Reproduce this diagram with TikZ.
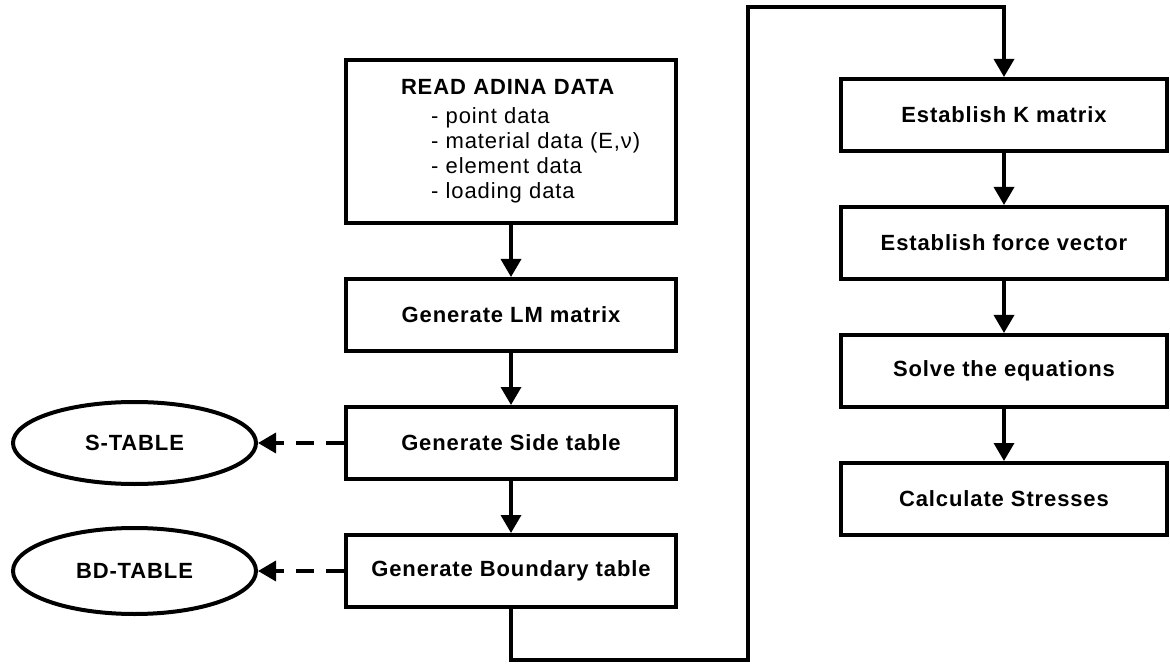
\documentclass[tikz,border=0pt]{standalone}
\usepackage{fontspec}
\setmainfont{Liberation Sans}[LetterSpace=4]
\usepackage{tikz}
\usetikzlibrary{arrows.meta, positioning, shapes.geometric}

\begin{document}
\begin{tikzpicture}[x=1pt, y=1pt, >={Triangle[width=20pt,length=18pt]},
    line width=3.5pt, node distance=52pt]
    \tikzstyle{process} = [draw, line width=4pt, text centered, align=center,
        minimum width=330pt, minimum height=72pt,
        font=\fontsize{22}{25}\selectfont\bfseries]
    \tikzstyle{store} = [draw, ellipse, line width=4pt, minimum width=243pt,
        minimum height=82pt, font=\fontsize{22}{25}\selectfont\bfseries]
    \tikzstyle{flow} = [->]
    \useasboundingbox (0,0) rectangle (1170,665);
    % left column
    \node [process, minimum height=163pt, text width=330pt, inner xsep=0pt,
        align=left, font=\fontsize{22}{25}\selectfont] at (511,523.5) (read)
        {\hspace*{55pt}\textbf{READ ADINA DATA}\\[4pt]
         \hspace*{85pt}- point data\\
         \hspace*{85pt}- material data (E,ν)\\
         \hspace*{85pt}- element data\\
         \hspace*{85pt}- loading data};
    \node [process, below =of read] (lm) {Generate LM matrix};
    \node [process, below =of lm] (side) {Generate Side table};
    \node [process, below =of side] (bound) {Generate Boundary table};
    \node [store, left =86pt of side] (stab) {S-TABLE};
    \node [store, minimum height=86pt, left =86pt of bound] (bdtab) {BD-TABLE};
    % right column
    \node [process, minimum width=326pt] at (1004,550) (kmat) {Establish K matrix};
    \node [process, minimum width=326pt, below =of kmat] (force) {Establish force vector};
    \node [process, minimum width=326pt, below =of force] (solve) {Solve the equations};
    \node [process, minimum width=326pt, below =of solve] (stress) {Calculate Stresses};
    \coordinate (low) at (748,5);
    \coordinate (high) at (748,658);
    \draw [flow] (read) -- (lm);
    \draw [flow] (lm) -- (side);
    \draw [flow] (side) -- (bound);
    \draw [flow, dash pattern=on 18pt off 12pt] (side.west) -- (stab.east);
    \draw [flow, dash pattern=on 18pt off 12pt] (bound.west) -- (bdtab.east);
    \draw [flow] (bound.south) |- (low) -- (high) -| (kmat.north);
    \draw [flow] (kmat) -- (force);
    \draw [flow] (force) -- (solve);
    \draw [flow] (solve) -- (stress);
\end{tikzpicture}
\end{document}
